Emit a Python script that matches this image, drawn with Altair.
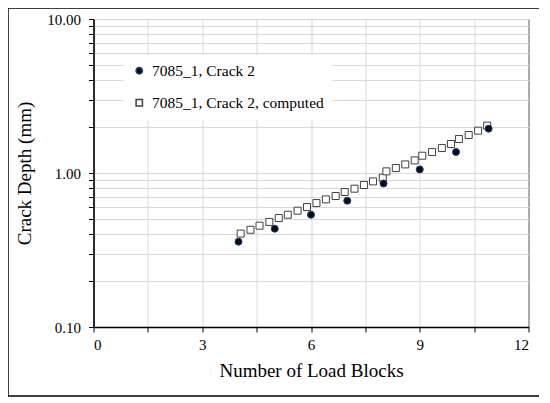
import altair as alt
import pandas as pd

# measured series
meas_x = [4, 5, 6, 7, 8, 9, 10, 10.9]
meas_y = [0.358, 0.435, 0.536, 0.661, 0.855, 1.055, 1.37, 1.94]

comp_x = [4.06, 4.33, 4.58, 4.85, 5.11, 5.36, 5.63, 5.89, 6.15, 6.41, 6.68, 6.93,
          7.20, 7.46, 7.71, 7.98, 8.08, 8.34, 8.60, 8.86, 9.07, 9.34, 9.61, 9.86,
          10.08, 10.35, 10.61, 10.86]
comp_y = [0.404, 0.428, 0.455, 0.481, 0.51, 0.536, 0.569, 0.601, 0.638, 0.674,
          0.709, 0.753, 0.791, 0.836, 0.882, 0.932, 1.025, 1.077, 1.137, 1.207,
          1.295, 1.368, 1.452, 1.543, 1.663, 1.765, 1.883, 2.03]

series_names = ["7085_1, Crack 2", "7085_1, Crack 2, computed"]

x_ticks = [0, 1.5, 3, 4.5, 6, 7.5, 9, 10.5, 12]
y_ticks = [0.1, 0.2, 0.3, 0.4, 0.5, 0.6, 0.7, 0.8, 0.9,
           1, 2, 3, 4, 5, 6, 7, 8, 9, 10]

rows = []
for x, y in zip(comp_x, comp_y):
    rows.append({"x": x, "y": y, "series": series_names[1]})
for x, y in zip(meas_x, meas_y):
    rows.append({"x": x, "y": y, "series": series_names[0]})
df = pd.DataFrame(rows)

FONT = "Liberation Serif"

leg = alt.Legend(title=None, orient="none", legendX=30, legendY=36,
                 fillColor="white", padding=8, rowPadding=15,
                 labelFont=FONT, labelFontSize=15.5, labelColor="black",
                 labelLimit=400, symbolSize=40, labelOffset=5)

points = alt.Chart(df).mark_point(size=49, strokeWidth=1, opacity=1).encode(
    x=alt.X("x:Q",
            scale=alt.Scale(domain=[0, 12], nice=False, zero=False),
            axis=alt.Axis(values=x_ticks,
                          labelExpr="datum.value % 3 == 0 ? datum.label : ''",
                          title="Number of Load Blocks",
                          grid=True, gridColor="#d9d9d9", gridWidth=1,
                          tickSize=5, tickColor="black", tickWidth=1,
                          domainColor="black", domainWidth=1.5,
                          labelFont=FONT, labelFontSize=15, labelColor="black",
                          labelPadding=5,
                          titleFont=FONT, titleFontSize=19, titleFontWeight="normal",
                          titleColor="black", titlePadding=9)),
    y=alt.Y("y:Q",
            scale=alt.Scale(type="log", domain=[0.1, 10], nice=False),
            axis=alt.Axis(values=y_ticks,
                          labelExpr="(datum.value == 0.1 || datum.value == 1 || datum.value == 10) ? format(datum.value, '.2f') : ''",
                          title="Crack Depth (mm)",
                          grid=True, gridColor="#d9d9d9", gridWidth=1,
                          tickSize=5, tickColor="black", tickWidth=1,
                          domainColor="black", domainWidth=1.5,
                          labelFont=FONT, labelFontSize=15, labelColor="black",
                          labelPadding=8,
                          titleFont=FONT, titleFontSize=19, titleFontWeight="normal",
                          titleColor="black", titlePadding=12)),
    shape=alt.Shape("series:N",
                    scale=alt.Scale(domain=series_names, range=["circle", "square"]),
                    legend=leg),
    fill=alt.Fill("series:N",
                  scale=alt.Scale(domain=series_names, range=["#0b0b1a", "#ffffff"]),
                  legend=leg),
    stroke=alt.Stroke("series:N",
                      scale=alt.Scale(domain=series_names, range=["#1f3a68", "#404040"]),
                      legend=leg),
    order=alt.Order("series:N", sort="descending"),
)

border = alt.Chart(pd.DataFrame({"a": [0]})).mark_rect(
    fill=None, stroke="black", strokeWidth=1.5, clip=False
).encode(
    x=alt.value(-85.5), x2=alt.value(448.5),
    y=alt.value(-11), y2=alt.value(377)
)

chart = alt.layer(points, border).properties(
    width=435, height=308,
    padding={"left": 85.5, "top": 11, "right": 10, "bottom": 76},
    autosize=alt.AutoSizeParams(type="none"),
    background="white",
).configure(font=FONT).configure_view(stroke="black", strokeWidth=1).configure_legend(
    labelFont=FONT, labelFontSize=15.5, labelLimit=400, labelColor="black"
).configure_axis(labelFont=FONT, titleFont=FONT)

chart.save("out.html", embed_options={"renderer": "svg", "actions": False})
